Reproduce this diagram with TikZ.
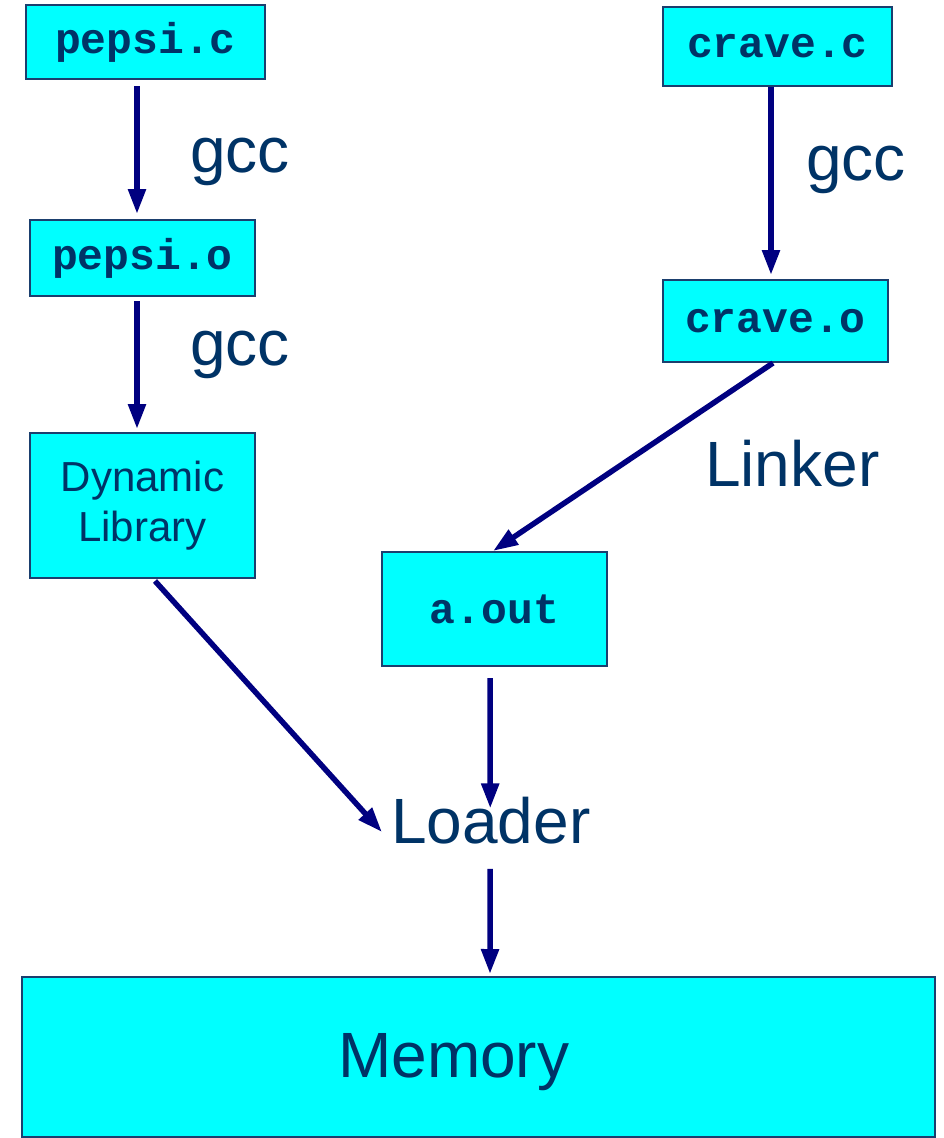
\documentclass[tikz,border=0pt]{standalone}
\usepackage{fontspec}
\setmainfont{Liberation Sans}
\setmonofont{Liberation Mono}
\usetikzlibrary{arrows.meta}
\definecolor{boxfill}{HTML}{00FFFF}
\definecolor{boxline}{HTML}{1B3F6E}
\definecolor{inktext}{HTML}{003366}
\definecolor{arrowink}{HTML}{000080}
\tikzset{
  filebox/.style={draw=boxline, line width=2pt, fill=boxfill, text=inktext,
    inner sep=0pt, font=\fontsize{43}{48}\selectfont\ttfamily\bfseries},
  textbox/.style={draw=boxline, line width=2pt, fill=boxfill, text=inktext,
    inner sep=0pt, align=center, font=\fontsize{42}{50}\selectfont},
  biglabel/.style={text=inktext, inner sep=0pt, anchor=base west,
    font=\fontsize{64}{70}\selectfont},
  arr/.style={draw=arrowink, line width=5.5pt,
    -{Triangle[length=25pt,width=17pt]}},
}
\begin{document}
\begin{tikzpicture}[x=1pt,y=-1pt]
\useasboundingbox (0,0) rectangle (944,1138);

% source, object and library boxes
\node[filebox, minimum width=239pt, minimum height=74pt] (pepsic) at (145.5,42) {pepsi.c};
\node[filebox, minimum width=225pt, minimum height=76pt] (pepsio) at (142.5,258) {pepsi.o};
\node[textbox, minimum width=225pt, minimum height=145pt] (dynlib) at (142.5,505.5) {Dynamic\\Library};
\node[filebox, minimum width=229pt, minimum height=79pt] (cravec) at (777.5,46.5) {crave.c};
\node[filebox, minimum width=225pt, minimum height=82pt] (craveo) at (775.5,321) {crave.o};
\node[filebox, minimum width=225pt, minimum height=114pt] (aout) at (494.5,609) {a.out};
\node[draw=boxline, line width=2pt, fill=boxfill, minimum width=913pt, minimum height=160pt,
  inner sep=0pt] (memory) at (478.5,1057) {};
\node[biglabel] (memtext) at (338,1077) {Memory};

% step labels
\node[biglabel] (gcca) at (190,172) {gcc};
\node[biglabel] (gccb) at (190,365) {gcc};
\node[biglabel] (gccc) at (806,180) {gcc};
\node[biglabel] (linker) at (705,486) {Linker};
\node[biglabel] (loader) at (391,843) {Loader};

% connectors
\draw[arr] ([xshift=-8.5pt,yshift=-6pt]pepsic.south) -- ([xshift=-5.5pt,yshift=5pt]pepsio.north);
\draw[arr] ([xshift=-5.5pt,yshift=-4pt]pepsio.south) -- ([xshift=-5.5pt,yshift=3pt]dynlib.north);
\draw[arr] ([xshift=-6.5pt]cravec.south) -- ([xshift=-4.5pt,yshift=4pt]craveo.north);
\draw[arr] ([xshift=-2.5pt]craveo.south) -- ([xshift=-1.5pt]aout.north);
\draw[arr] ([xshift=12.5pt,yshift=-2pt]dynlib.south) -- ([xshift=-9pt,yshift=-12pt]loader.west);
\draw[arr] ([xshift=-4.5pt,yshift=-11pt]aout.south) -- ([xshift=-0.6pt,yshift=-12pt]loader.north);
\draw[arr] ([xshift=-0.6pt,yshift=-25pt]loader.south) -- ([xshift=11.5pt,yshift=2pt]memory.north);
\end{tikzpicture}
\end{document}
